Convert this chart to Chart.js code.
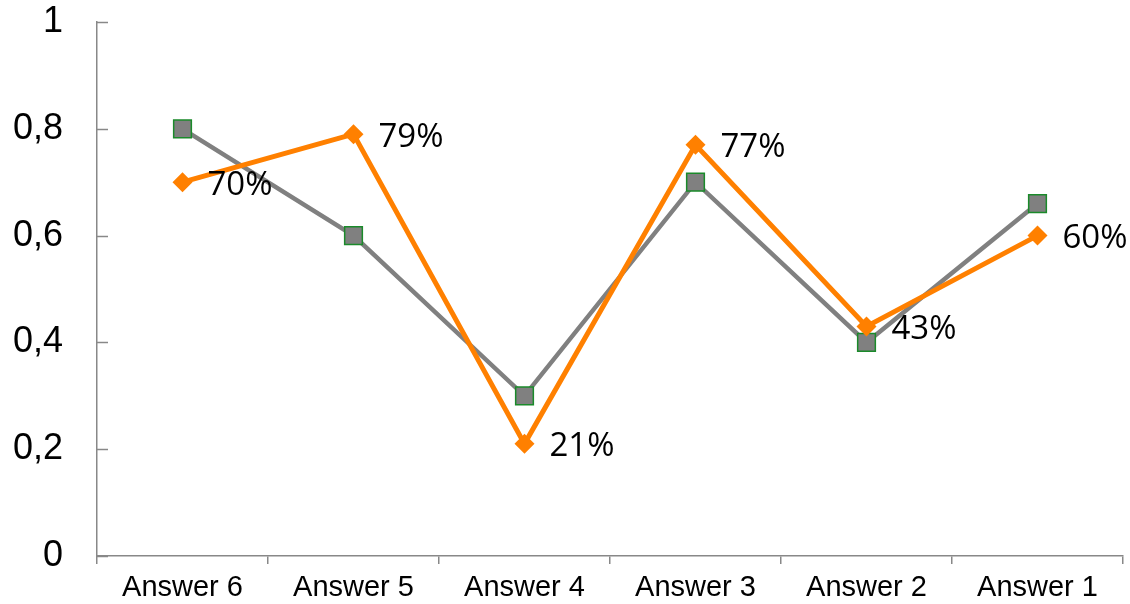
<!DOCTYPE html>
<html>
<head>
<meta charset="utf-8">
<script src="https://cdn.jsdelivr.net/npm/chart.js@4"></script>
<style>
  html, body { margin: 0; padding: 0; background: #fff; overflow: hidden; }
  /* a little wider than the window: the scale layout keeps a 14px margin on the right */
  #wrap { width: 1137px; height: 604px; }
</style>
</head>
<body>
<div id="wrap"><canvas id="chart"></canvas></div>
<script>
const answers = ["Answer 6", "Answer 5", "Answer 4", "Answer 3", "Answer 2", "Answer 1"];
const orangeValues = [0.70, 0.79, 0.21, 0.77, 0.43, 0.60];
const grayValues = [0.80, 0.60, 0.30, 0.70, 0.40, 0.66];

// percentage labels next to the orange points
const valueLabels = {
    id: "valueLabels",
    afterDatasetsDraw(chart) {
        const ctx = chart.ctx;
        const meta = chart.getDatasetMeta(0);
        ctx.save();
        ctx.font = "33px 'Open Sans'";
        ctx.fillStyle = "#000";
        ctx.textAlign = "left";
        ctx.textBaseline = "middle";
        meta.data.forEach((pt, i) => {
            ctx.fillText(Math.round(orangeValues[i] * 100) + "%", pt.x + 25, pt.y + 3);
        });
        ctx.restore();
    }
};

// short tick marks on the inner side of the y axis
const innerTicks = {
    id: "innerTicks",
    afterDraw(chart) {
        const ctx = chart.ctx;
        const y = chart.scales.y;
        ctx.save();
        ctx.strokeStyle = "#888";
        ctx.lineWidth = 1.5;
        y.ticks.forEach(t => {
            const py = Math.round(y.getPixelForValue(t.value)) + 0.5;
            ctx.beginPath();
            ctx.moveTo(y.right, py);
            ctx.lineTo(y.right + 11, py);
            ctx.stroke();
        });
        ctx.restore();
    }
};

new Chart(document.getElementById("chart"), {
    type: "line",
    data: {
        labels: answers,
        datasets: [
            {
                data: orangeValues,
                borderColor: "#ff8000",
                backgroundColor: "#ff8000",
                borderWidth: 5,
                pointStyle: "rectRot",
                pointRadius: 10,
                pointHoverRadius: 10,
                pointBorderWidth: 0,
                tension: 0
            },
            {
                data: grayValues,
                borderColor: "#808080",
                backgroundColor: "#808080",
                borderWidth: 4.5,
                pointStyle: "rect",
                pointRadius: 12.5,
                pointHoverRadius: 12.5,
                pointBorderColor: "#1a8a2a",
                pointBorderWidth: 1.5,
                tension: 0
            }
        ]
    },
    options: {
        responsive: true,
        maintainAspectRatio: false,
        animation: false,
        layout: { padding: { top: 22, right: 0, left: 0, bottom: 0 } },
        plugins: {
            legend: { display: false },
            tooltip: { enabled: false }
        },
        scales: {
            x: {
                type: "category",
                offset: true,
                grid: {
                    offset: true,
                    drawOnChartArea: false,
                    drawTicks: true,
                    tickLength: 8,
                    color: "#888",
                    lineWidth: 1.5
                },
                border: { color: "#888", width: 1.5 },
                ticks: {
                    font: { family: "'Liberation Sans', Arial", size: 29 },
                    color: "#000",
                    padding: 7,
                    maxRotation: 0
                },
                afterFit(scale) {
                    scale.height = 48;
                    scale.paddingLeft = 0;
                    scale.paddingRight = 0;
                }
            },
            y: {
                min: 0,
                max: 1,
                grid: { drawOnChartArea: false, drawTicks: false },
                border: { color: "#888", width: 1.5 },
                ticks: {
                    stepSize: 0.2,
                    padding: 34,
                    color: "#000",
                    font: { family: "'Liberation Sans', Arial", size: 36 },
                    callback: v => String(Math.round(v * 10) / 10).replace(".", ",")
                },
                afterFit(scale) {
                    scale.width = 97;
                    scale.paddingTop = 0;
                    scale.paddingBottom = 0;
                }
            }
        }
    },
    plugins: [valueLabels, innerTicks]
});
</script>
</body>
</html>
